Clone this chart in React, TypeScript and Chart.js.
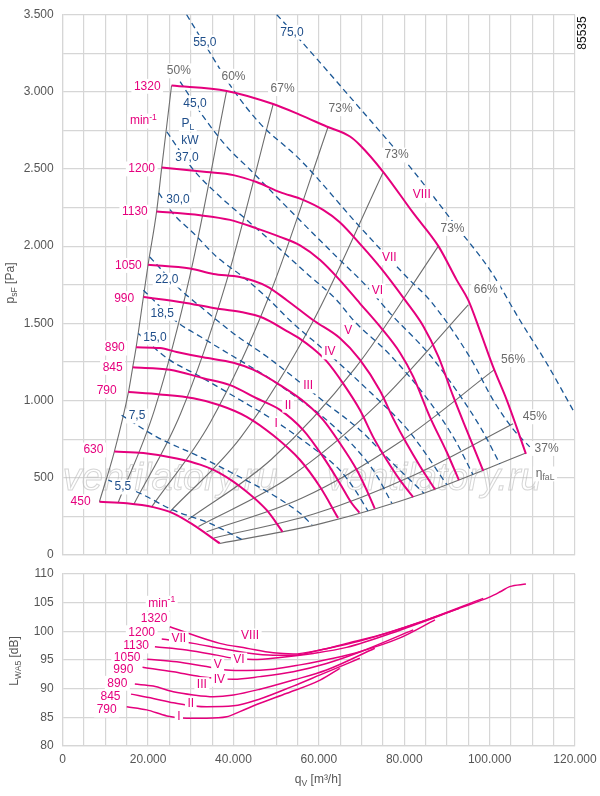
import React, { useEffect, useRef } from 'react';
import { Chart, registerables } from 'chart.js';
Chart.register(...registerables);

const MAGENTA = '#e5007d';
const GREY = '#6e6e6e';
const BLUE = '#1c5896';
const BLUE_TEXT = '#1f4e8a';
const PCT_TEXT = '#6a6a6a';
const GRID = '#d6d6d6';
const TICK = '#555555';
const FONT = "'Liberation Sans', Arial, Helvetica, sans-serif";

// ---------- Top chart: fan curves, q [m3/h] vs p_sF [Pa] ----------
const speeds = [450, 630, 790, 845, 890, 990, 1050, 1130, 1200, 1320];

const curve450 = [[8600,345],[15000,335],[21200,310],[25900,270],[30600,195],[36800,75]];
const curve630 = [[12100,670],[18900,660],[26700,625],[32200,585],[36800,530],[43100,410],[47800,290],[51500,150]];
const curve790 = [[15400,1055],[22800,1040],[30600,1015],[36800,970],[43100,895],[49300,775],[55600,615],[60300,440],[64500,240]];
const curve845 = [[16400,1215],[25100,1200],[32900,1145],[39200,1100],[45400,1015],[50900,940],[56300,810],[61000,635],[64900,465],[67700,335],[69500,275]];
const curve890 = [[17200,1345],[22800,1340],[26700,1315],[32900,1280],[40000,1245],[44600,1200],[50900,1100],[57100,980],[61000,875],[64900,725],[68900,550],[71200,420],[73100,300]];
const curve990 = [[18900,1670],[28200,1635],[35300,1600],[41500,1575],[47000,1535],[52500,1450],[55600,1400],[58700,1335],[61800,1255],[65700,1110],[69600,940],[72700,765],[75900,615],[79000,485],[82100,375]];
const curve1050 = [[20000,1880],[29800,1855],[35300,1820],[41500,1800],[47800,1740],[52500,1650],[58700,1520],[64900,1405],[69600,1265],[74300,1065],[77400,885],[80600,720],[83700,575],[87200,425]];
const curve1130 = [[22000,2225],[32200,2200],[39200,2170],[45400,2115],[50900,2060],[55600,2005],[60300,1910],[64900,1780],[69600,1630],[74300,1480],[79000,1310],[82100,1155],[86000,895],[89900,670],[92800,485]];
const curve1200 = [[23200,2510],[33700,2480],[40000,2460],[45400,2415],[50900,2350],[56300,2300],[61000,2235],[64900,2155],[70100,2000],[74300,1865],[80200,1650],[84500,1480],[88000,1285],[91500,1025],[94600,810],[98500,545]];
const curve1320 = [[25500,3040],[38400,3005],[49300,2920],[55600,2850],[61800,2775],[67300,2710],[69600,2655],[75100,2480],[82100,2215],[88000,2000],[92300,1780],[95000,1650],[97700,1455],[100800,1220],[104000,1005],[106300,830],[108500,655]];
const fanCurves = [curve450, curve630, curve790, curve845, curve890, curve990, curve1050, curve1130, curve1200, curve1320];

// efficiency lines (grey)
const eff50 = [[8600,345],[12100,670],[15400,1055],[16400,1215],[17200,1345],[18900,1670],[20000,1880],[22000,2225],[23200,2510],[25500,3040]];
const eff60 = [[13000,340],[21500,940],[29900,1820],[38400,3005]];
const eff67 = [[16700,330],[27600,915],[38400,1775],[49300,2920]];
const eff73a = [[20800,310],[34600,860],[48400,1680],[62200,2775]];
const eff73b = [[25100,280],[41800,765],[58400,1500],[75100,2480]];
const eff73c = [[29400,230],[48900,620],[68500,1210],[88000,2000]];
const eff66 = [[31800,185],[52900,500],[73900,980],[95000,1620]];
const eff56 = [[33700,150],[56200,370],[78600,725],[101100,1200]];
const eff45 = [[35400,110],[58800,265],[82100,515],[105500,850]];
const eff37 = [[36800,75],[60700,205],[84600,400],[108500,660]];
const effLines = [eff50, eff60, eff67, eff73a, eff73b, eff73c, eff66, eff56, eff45, eff37];

// shaft power lines P_L [kW] (blue dashed)
const pow5_5 = [[10700,485],[18100,400],[25900,290],[34500,205],[42300,95]];
const pow7_5 = [[13800,905],[22000,765],[32200,635],[41500,505],[50100,375],[55600,270],[58400,195]];
const pow15 = [[17700,1435],[24400,1275],[32200,1155],[41500,1005],[49300,875],[57100,725],[64900,550],[68500,420],[71500,285]];
const pow18_5 = [[18900,1715],[26700,1510],[32200,1415],[40000,1285],[47800,1155],[55600,1005],[61800,875],[68000,710],[73100,535],[77100,335]];
const pow22 = [[20400,1930],[27500,1720],[32200,1610],[40000,1435],[47800,1285],[54800,1135],[61800,980],[69600,810],[77100,600],[84600,400]];
const pow30 = [[22500,2345],[25900,2210],[30600,2085],[36100,1930],[42300,1800],[48500,1650],[53200,1520],[62600,1295],[72000,1055],[81300,795],[90000,455]];
const pow37 = [[24400,2740],[30600,2495],[36100,2340],[43100,2170],[50100,2000],[57100,1825],[64200,1650],[68100,1520],[76700,1295],[86000,990],[91900,745],[96100,520]];
const pow45 = [[27500,3065],[32900,2840],[38400,2645],[43900,2495],[50100,2320],[57100,2125],[64200,1930],[71200,1740],[76700,1565],[86000,1295],[93000,1035],[98200,810],[102400,590]];
const pow55 = [[29000,3500],[34100,3270],[40000,3010],[46200,2795],[55600,2560],[69600,2125],[81300,1780],[86000,1650],[95400,1280],[100800,1005],[105500,815],[109400,700]];
const pow75 = [[50100,3500],[55600,3335],[68900,2915],[81300,2515],[92300,2125],[100100,1845],[107100,1520],[113400,1240],[119700,930]];
const powerLines = [pow5_5, pow7_5, pow15, pow18_5, pow22, pow30, pow37, pow45, pow55, pow75];

// ---------- Bottom chart: sound power L_WA5 [dB] ----------
const noise790 = [[15000,86.85],[19700,86.3],[24400,85.25],[29000,84.85],[33700,84.85],[38400,85.1],[41500,86.0],[46200,87.45],[52500,89.2],[60300,91.5],[64900,93.55]];
const noise845 = [[16000,89.05],[21200,88.3],[25900,87.55],[33700,86.85],[40000,87.0],[46200,88.2],[54000,90.45],[60300,92.4],[69600,95.3]];
const noise890 = [[16900,90.8],[21200,90.45],[25900,89.45],[30600,88.9],[35300,88.6],[40000,88.9],[46200,89.9],[54000,91.5],[61800,93.25],[73100,97.05]];
const noise990 = [[18700,93.75],[25900,92.95],[32200,92.1],[40000,91.65],[46200,92.1],[54000,92.95],[61800,94.4],[69600,96.4],[82100,100.25]];
const noise1050 = [[19800,95.15],[26700,94.7],[32900,93.95],[38400,93.25],[43100,93.15],[49300,93.4],[55600,94.15],[63400,95.3],[69600,96.45],[79000,98.85],[87200,102.0]];
const noise1130 = [[21600,97.3],[29000,96.75],[36100,95.85],[40000,95.3],[44600,95.1],[50900,95.45],[58700,96.15],[66500,97.2],[79000,100.2],[92900,104.0]];
const noise1200 = [[23200,98.65],[30600,97.9],[36800,97.05],[43100,96.25],[49300,95.85],[54000,95.85],[60300,96.75],[69600,98.3],[83700,101.6],[98500,105.75]];
const noise1320 = [[25100,100.8],[30600,99.35],[36800,97.9],[43100,97.05],[49300,96.25],[54000,96.05],[60300,96.75],[66500,97.9],[74300,99.35],[83700,101.6],[93000,104.05],[100100,106.0],[102500,106.9],[104700,107.8],[108500,108.25]];
const noiseCurves = [noise790, noise845, noise890, noise990, noise1050, noise1130, noise1200, noise1320];

// ---------- Labels ----------
type Seg = { t: string; s?: 'sub' | 'sup' };
type Lbl = { text: string | Seg[]; x: number; y: number };

const rpmLabelsTop: Lbl[] = [
  { text: '1320', x: 19800, y: 3035 }, { text: [{ t: 'min' }, { t: '-1', s: 'sup' }], x: 18900, y: 2810 },
  { text: '1200', x: 18500, y: 2500 }, { text: '1130', x: 16900, y: 2220 }, { text: '1050', x: 15400, y: 1875 },
  { text: '990', x: 14400, y: 1660 }, { text: '890', x: 12200, y: 1340 }, { text: '845', x: 11700, y: 1215 },
  { text: '790', x: 10300, y: 1065 }, { text: '630', x: 7200, y: 680 }, { text: '450', x: 4200, y: 345 },
];
const romanLabelsTop: Lbl[] = [
  { text: 'VIII', x: 84100, y: 2330 }, { text: 'VII', x: 76500, y: 1925 }, { text: 'VI', x: 73700, y: 1710 },
  { text: 'V', x: 66900, y: 1455 }, { text: 'IV', x: 62600, y: 1315 }, { text: 'III', x: 57500, y: 1095 },
  { text: 'II', x: 52800, y: 970 }, { text: 'I', x: 50000, y: 850 },
];
const powerLabels: Lbl[] = [
  { text: '55,0', x: 33300, y: 3320 }, { text: '75,0', x: 53700, y: 3385 }, { text: '45,0', x: 31000, y: 2925 },
  { text: [{ t: 'P' }, { t: 'L', s: 'sub' }], x: 29300, y: 2790 }, { text: 'kW', x: 29800, y: 2685 },
  { text: '37,0', x: 29100, y: 2575 }, { text: '30,0', x: 27000, y: 2300 }, { text: '22,0', x: 24400, y: 1780 },
  { text: '18,5', x: 23300, y: 1565 }, { text: '15,0', x: 21600, y: 1410 }, { text: '7,5', x: 17400, y: 900 },
  { text: '5,5', x: 14100, y: 440 },
];
const effLabels: Lbl[] = [
  { text: '50%', x: 27200, y: 3135 }, { text: '60%', x: 40000, y: 3100 }, { text: '67%', x: 51500, y: 3020 },
  { text: '73%', x: 65100, y: 2890 }, { text: '73%', x: 78200, y: 2590 }, { text: '73%', x: 91300, y: 2115 },
  { text: '66%', x: 99100, y: 1720 }, { text: '56%', x: 105500, y: 1265 }, { text: '45%', x: 110600, y: 895 },
  { text: '37%', x: 113350, y: 690 }, { text: [{ t: 'η' }, { t: 'faL', s: 'sub' }], x: 113000, y: 525 },
];
const rpmLabelsBottom: Lbl[] = [
  { text: [{ t: 'min' }, { t: '-1', s: 'sup' }], x: 23200, y: 104.9 }, { text: '1320', x: 21400, y: 102.15 },
  { text: '1200', x: 18500, y: 99.76 }, { text: '1130', x: 17200, y: 97.44 }, { text: '1050', x: 15100, y: 95.35 },
  { text: '990', x: 14200, y: 93.26 }, { text: '890', x: 12800, y: 90.94 }, { text: '845', x: 11200, y: 88.6 },
  { text: '790', x: 10300, y: 86.28 },
];
const romanLabelsBottom: Lbl[] = [
  { text: 'VIII', x: 43900, y: 99.19 }, { text: 'VII', x: 27200, y: 98.66 }, { text: 'VI', x: 41300, y: 95.0 },
  { text: 'V', x: 36300, y: 94.13 }, { text: 'IV', x: 36700, y: 91.63 }, { text: 'III', x: 32600, y: 90.69 },
  { text: 'II', x: 30000, y: 87.33 }, { text: 'I', x: 27200, y: 85.11 },
];
const watermarkAnchors = [[0, 421], [61900, 421]];

// ---------- helpers ----------
const fmt = (v: number) => String(Math.round(v)).replace(/\B(?=(\d{3})+(?!\d))/g, '.');
const pts = (a: number[][]) => a.map(([x, y]) => ({ x, y }));

function drawRich(ctx: CanvasRenderingContext2D, text: string | Seg[], x: number, y: number, size: number,
  color: string, align: 'left' | 'center' | 'right', bg: boolean) {
  const parts: Seg[] = typeof text === 'string' ? [{ t: text }] : text;
  const widths = parts.map((p) => {
    ctx.font = `${p.s ? size * 0.72 : size}px ${FONT}`;
    return ctx.measureText(p.t).width;
  });
  const total = widths.reduce((a, b) => a + b, 0);
  let x0 = align === 'center' ? x - total / 2 : align === 'right' ? x - total : x;
  if (bg) {
    ctx.fillStyle = '#ffffff';
    ctx.fillRect(x0 - 2.5, y - size * 0.62, total + 5, size * 1.24);
  }
  ctx.fillStyle = color;
  ctx.textBaseline = 'middle';
  ctx.textAlign = 'left';
  parts.forEach((p, i) => {
    const fs = p.s ? size * 0.72 : size;
    ctx.font = `${fs}px ${FONT}`;
    const dy = p.s === 'sub' ? size * 0.32 : p.s === 'sup' ? -size * 0.3 : 0;
    ctx.fillText(p.t, x0, y + dy);
    x0 += widths[i];
  });
}

function drawRotated(ctx: CanvasRenderingContext2D, text: string | Seg[], cx: number, cy: number, size: number, color: string) {
  ctx.save();
  ctx.translate(cx, cy);
  ctx.rotate(-Math.PI / 2);
  drawRich(ctx, text, 0, 0, size, color, 'center', false);
  ctx.restore();
}

function drawLabels(chart: any, list: Lbl[], color: string) {
  const { ctx, scales } = chart;
  list.forEach((l) => {
    drawRich(ctx, l.text, scales.x.getPixelForValue(l.x), scales.y.getPixelForValue(l.y), 12, color, 'center', true);
  });
}

const lineDs = (data: number[][], color: string, width: number, dash: number[], order: number) => ({
  data: pts(data),
  borderColor: color,
  borderWidth: width,
  borderDash: dash,
  pointRadius: 0,
  fill: false,
  cubicInterpolationMode: 'monotone' as const,
  order,
});

const gridOpts = { color: GRID, lineWidth: 1.2, drawTicks: false };
const borderOpts = { color: GRID, width: 1.2 };
const tickFont = { family: FONT, size: 12 };

function topConfig(): any {
  const datasets: any[] = [];
  effLines.forEach((d) => datasets.push(lineDs(d, GREY, 1.1, [], 2)));
  powerLines.forEach((d) => datasets.push(lineDs(d, BLUE, 1.3, [6, 4], 1)));
  fanCurves.forEach((d) => datasets.push(lineDs(d, MAGENTA, 2, [], 0)));
  const decor = {
    id: 'topDecor',
    beforeDatasetsDraw(chart: any) {
      const { ctx, scales } = chart;
      ctx.save();
      ctx.font = `italic 38px ${FONT}`;
      ctx.strokeStyle = 'rgba(185,185,185,0.6)';
      ctx.lineWidth = 1;
      ctx.textBaseline = 'alphabetic';
      ctx.textAlign = 'left';
      watermarkAnchors.forEach(([x, y]) => {
        ctx.strokeText('ventilatory.ru', scales.x.getPixelForValue(x), scales.y.getPixelForValue(y));
      });
      ctx.restore();
    },
    afterDatasetsDraw(chart: any) {
      const { ctx } = chart;
      ctx.save();
      drawLabels(chart, effLabels, PCT_TEXT);
      drawLabels(chart, powerLabels, BLUE_TEXT);
      drawLabels(chart, rpmLabelsTop, MAGENTA);
      drawLabels(chart, romanLabelsTop, MAGENTA);
      ctx.restore();
    },
    afterDraw(chart: any) {
      const { ctx } = chart;
      ctx.save();
      drawRotated(ctx, [{ t: 'p' }, { t: 'sF', s: 'sub' }, { t: ' [Pa]' }], 11, 283, 12, TICK);
      drawRotated(ctx, '85535', 583, 33, 12, '#111111');
      ctx.restore();
    },
  };
  return {
    type: 'line',
    data: { datasets },
    plugins: [decor],
    options: {
      responsive: false,
      animation: false,
      events: [],
      layout: { padding: { left: 0, right: 25, top: 14.5, bottom: 10 } },
      plugins: { legend: { display: false }, tooltip: { enabled: false }, title: { display: false } },
      scales: {
        x: {
          type: 'linear', min: 0, max: 120000,
          ticks: { display: false, stepSize: 5000, autoSkip: false },
          grid: gridOpts, border: borderOpts,
          afterFit: (s: any) => { s.height = 0; s.paddingLeft = 0; s.paddingRight = 0; },
        },
        y: {
          type: 'linear', min: 0, max: 3500,
          ticks: {
            stepSize: 250, autoSkip: false, padding: 9, color: TICK, font: tickFont,
            callback: (v: any) => (Number(v) % 500 === 0 ? fmt(Number(v)) : ''),
          },
          grid: gridOpts, border: borderOpts,
          afterFit: (s: any) => { s.width = 62.7; s.paddingTop = 0; s.paddingBottom = 0; },
        },
      },
    },
  };
}

function bottomConfig(): any {
  const datasets = noiseCurves.map((d) => lineDs(d, MAGENTA, 1.5, [], 0));
  const decor = {
    id: 'bottomDecor',
    afterDatasetsDraw(chart: any) {
      const { ctx } = chart;
      ctx.save();
      drawLabels(chart, rpmLabelsBottom, MAGENTA);
      drawLabels(chart, romanLabelsBottom, MAGENTA);
      ctx.restore();
    },
    afterDraw(chart: any) {
      const { ctx } = chart;
      ctx.save();
      drawRotated(ctx, [{ t: 'L' }, { t: 'WA5', s: 'sub' }, { t: ' [dB]' }], 15, 96, 12, TICK);
      drawRich(ctx, [{ t: 'q' }, { t: 'V', s: 'sub' }, { t: ' [m³/h]' }], 318, 215, 12, TICK, 'center', false);
      ctx.restore();
    },
  };
  return {
    type: 'line',
    data: { datasets },
    plugins: [decor],
    options: {
      responsive: false,
      animation: false,
      events: [],
      layout: { padding: { left: 0, right: 25, top: 9, bottom: 0 } },
      plugins: { legend: { display: false }, tooltip: { enabled: false }, title: { display: false } },
      scales: {
        x: {
          type: 'linear', min: 0, max: 120000,
          ticks: {
            stepSize: 5000, autoSkip: false, maxRotation: 0, minRotation: 0, padding: 6, color: TICK, font: tickFont,
            callback: (v: any) => (Number(v) % 20000 === 0 ? fmt(Number(v)) : ''),
          },
          grid: gridOpts, border: borderOpts,
          afterFit: (s: any) => { s.height = 50; s.paddingLeft = 0; s.paddingRight = 0; },
        },
        y: {
          type: 'linear', min: 80, max: 110,
          ticks: { stepSize: 5, autoSkip: false, padding: 9, color: TICK, font: tickFont },
          grid: gridOpts, border: borderOpts,
          afterFit: (s: any) => { s.width = 62.7; s.paddingTop = 0; s.paddingBottom = 0; },
        },
      },
    },
  };
}

export default function App() {
  const topRef = useRef<HTMLCanvasElement>(null);
  const botRef = useRef<HTMLCanvasElement>(null);
  useEffect(() => {
    const c1 = new Chart(topRef.current as HTMLCanvasElement, topConfig());
    const c2 = new Chart(botRef.current as HTMLCanvasElement, bottomConfig());
    return () => { c1.destroy(); c2.destroy(); };
  }, []);
  return (
    <div style={{ position: 'absolute', left: 0, top: 0, width: 600, height: 796, background: '#ffffff' }}>
      <canvas ref={topRef} width={600} height={565} style={{ position: 'absolute', left: 0, top: 0, width: 600, height: 565 }} />
      <canvas ref={botRef} width={600} height={231} style={{ position: 'absolute', left: 0, top: 565, width: 600, height: 231 }} />
    </div>
  );
}
